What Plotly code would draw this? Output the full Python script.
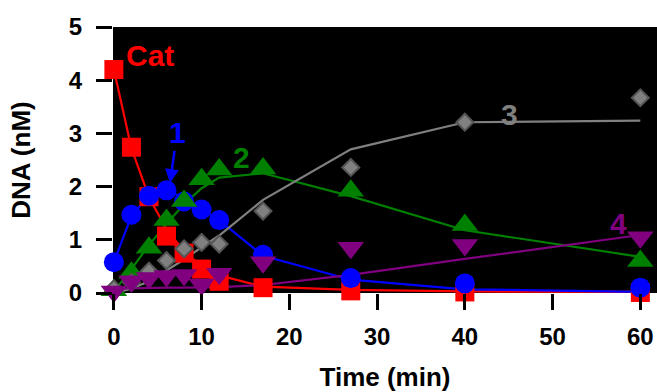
import plotly.graph_objects as go

times = [0, 2, 4, 6, 8, 10, 12, 17, 27, 40, 60]

cat_data = [4.20, 2.74, 1.81, 1.07, 0.75, 0.45, 0.22, 0.10, 0.04, 0.02, 0.01]
cat_fit = [4.20, 2.72, 1.80, 1.20, 0.78, 0.50, 0.33, 0.12, 0.06, 0.03, 0.02]

s1_data = [0.58, 1.47, 1.83, 1.93, 1.72, 1.57, 1.37, 0.72, 0.28, 0.18, 0.10]
s1_fit = [0.58, 1.45, 1.83, 1.93, 1.78, 1.57, 1.37, 0.70, 0.25, 0.07, 0.02]

s2_data = [0.05, 0.38, 0.85, 1.37, 1.73, 2.14, 2.32, 2.34, 1.92, 1.28, 0.60]
s2_fit = [0.03, 0.45, 0.90, 1.30, 1.67, 1.97, 2.17, 2.25, 1.82, 1.18, 0.68]

s3_data = [0.08, 0.20, 0.41, 0.61, 0.83, 0.95, 0.92, 1.54, 2.36, 3.21, 3.67]
s3_fit = [0.00, 0.08, 0.22, 0.42, 0.63, 0.86, 1.08, 1.75, 2.70, 3.21, 3.24]

s4_data = [0.03, 0.22, 0.28, 0.32, 0.34, 0.16, 0.36, 0.58, 0.85, 0.90, 1.05]
s4_fit = [0.08, 0.09, 0.10, 0.10, 0.10, 0.10, 0.11, 0.15, 0.34, 0.64, 1.09]

x_ticks = [0, 10, 20, 30, 40, 50, 60]
y_ticks = [0, 1, 2, 3, 4, 5]

RED = "#FF0000"
BLUE = "#0000FF"
GREEN = "#008000"
GRAY = "#808080"
PURPLE = "#800080"

FONT = "Liberation Sans, Arial, sans-serif"

fig = go.Figure()

fits = [(cat_fit, RED), (s1_fit, BLUE), (s2_fit, GREEN), (s3_fit, GRAY), (s4_fit, PURPLE)]
for fit, col in fits:
    fig.add_trace(go.Scatter(x=times, y=fit, mode="lines",
                             line=dict(color=col, width=2.2),
                             cliponaxis=False, showlegend=False, hoverinfo="skip"))

markers = [
    (cat_data, RED, "square", 19, None),
    (s1_data, BLUE, "circle", 20, None),
    (s2_data, GREEN, "triangle-up", 23, None),
    (s3_data, GRAY, "diamond", 13, "#555555"),
    (s4_data, PURPLE, "triangle-down", 23, None),
]
for data, col, sym, size, lc in markers:
    fig.add_trace(go.Scatter(
        x=times, y=data, mode="markers",
        marker=dict(symbol=sym, size=size, color=col,
                    line=dict(color=lc if lc else col, width=2 if lc else 0)),
        cliponaxis=False, showlegend=False))

lab_font = dict(family=FONT, size=30, weight="bold")
annotations = [
    dict(x=4.1, y=4.47, text="Cat", color=RED),
    dict(x=14.6, y=2.54, text="2", color=GREEN),
    dict(x=45.05, y=3.36, text="3", color=GRAY),
    dict(x=57.5, y=1.30, text="4", color=PURPLE),
]
for a in annotations:
    fig.add_annotation(x=a["x"], y=a["y"], xref="x", yref="y", text=a["text"],
                       showarrow=False, font=dict(lab_font, color=a["color"]),
                       xanchor="center", yanchor="middle")

fig.add_annotation(x=6.4, y=2.07, xref="x", yref="y", text="1",
                   showarrow=True, ax=7, ay=-50, arrowhead=2, arrowsize=1.1,
                   arrowwidth=2.5, arrowcolor=BLUE,
                   font=dict(lab_font, color=BLUE))

fig.update_layout(
    width=657, height=392,
    margin=dict(l=113, r=0, t=27, b=99),
    paper_bgcolor="white", plot_bgcolor="black",
    font=dict(family=FONT, color="black"),
)
fig.update_xaxes(range=[-0.1, 61.9], tickvals=x_ticks, ticks="outside", ticklen=16,
                 tickwidth=2.5, tickcolor="black", showgrid=False, zeroline=False,
                 showline=False, tickfont=dict(family=FONT, size=24, weight="bold"),
                 ticklabelstandoff=6,
                 title=dict(text="Time (min)", font=dict(family=FONT, size=26, weight="bold"),
                            standoff=19))
fig.update_yaxes(range=[0, 5], tickvals=y_ticks, ticks="outside", ticklen=16,
                 tickwidth=2.5, tickcolor="black", showgrid=False, zeroline=False,
                 showline=False, tickfont=dict(family=FONT, size=24, weight="bold"),
                 ticklabelstandoff=9,
                 title=dict(text="DNA (nM)", font=dict(family=FONT, size=26, weight="bold"),
                            standoff=30))

fig.write_html("out.html")
